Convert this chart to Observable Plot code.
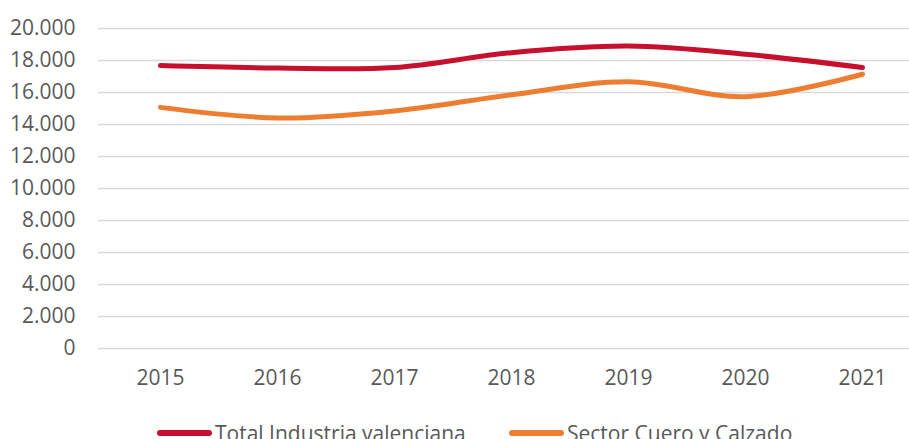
<!DOCTYPE html>
<html>
<head>
<meta charset="utf-8">
<script src="https://cdn.jsdelivr.net/npm/d3@7"></script>
<script src="https://cdn.jsdelivr.net/npm/@observablehq/plot@0.6"></script>
<style>
  html, body { margin: 0; padding: 0; background: #fff; overflow: hidden; width: 909px; height: 439px; }
  #chart svg { display: block; }
  .legend { position: relative; height: 30px; font-family: "Open Sans", sans-serif; font-size: 21px; color: #595959; }
  .item { position: absolute; top: 9px; display: flex; align-items: center; white-space: nowrap; }
  .sw { display: inline-block; width: 55px; height: 6px; border-radius: 3px; margin-right: 3px; }
</style>
</head>
<body>
<div id="chart"></div>
<div class="legend">
  <div class="item" style="left:157px"><span class="sw" style="background:#C70F2E"></span><span>Total Industria valenciana</span></div>
  <div class="item" style="left:509px"><span class="sw" style="background:#ED7D31"></span><span>Sector Cuero y Calzado</span></div>
</div>
<script>
const years = ["2015", "2016", "2017", "2018", "2019", "2020", "2021"];
const totalIndustria = [17680, 17530, 17560, 18490, 18900, 18390, 17560];
const sectorCuero = [15070, 14410, 14850, 15860, 16670, 15740, 17140];
const yTicks = [0, 2000, 4000, 6000, 8000, 10000, 12000, 14000, 16000, 18000, 20000];

const data = [];
years.forEach((y, i) => {
  data.push({year: y, value: totalIndustria[i], serie: "Total Industria valenciana"});
  data.push({year: y, value: sectorCuero[i], serie: "Sector Cuero y Calzado"});
});

const fmt = v => v === 0 ? "0" : d3.format(",")(v).replace(/,/g, ".");

const chart = Plot.plot({
  width: 909,
  height: 410,
  marginLeft: 98,
  marginRight: -14,
  marginTop: 28,
  marginBottom: 62,
  style: {fontFamily: "'Open Sans', sans-serif", fontSize: "21px", color: "#595959", background: "#fff"},
  x: {type: "point", domain: years, padding: 0.5},
  y: {domain: [0, 20000]},
  color: {domain: ["Total Industria valenciana", "Sector Cuero y Calzado"], range: ["#C70F2E", "#ED7D31"]},
  marks: [
    Plot.gridY(yTicks, {stroke: "#d9d9d9", strokeOpacity: 1, strokeWidth: 1.5}),
    Plot.axisY(yTicks, {tickSize: 0, tickPadding: 23, tickFormat: fmt, fill: "#595959", label: null}),
    Plot.axisX({tickSize: 0, tickPadding: 22, fill: "#595959", label: null}),
    Plot.line(data, {x: "year", y: "value", z: "serie", stroke: "serie", strokeWidth: 5, curve: "catmull-rom", strokeLinecap: "round"})
  ]
});
document.getElementById("chart").appendChild(chart);
</script>
</body>
</html>
